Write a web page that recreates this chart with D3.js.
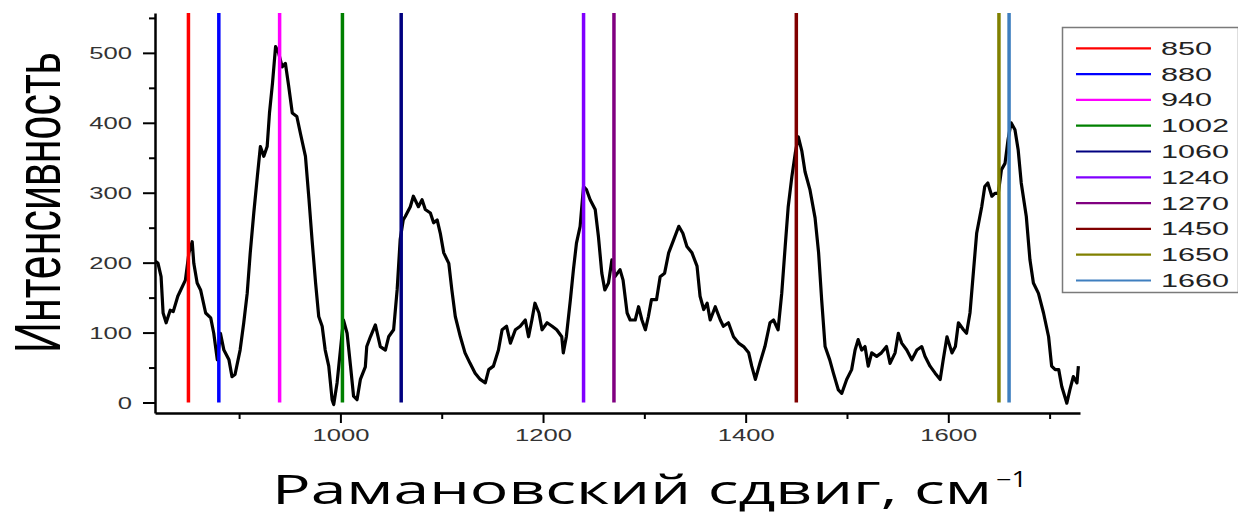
<!DOCTYPE html>
<html>
<head>
<meta charset="utf-8">
<script src="https://cdn.jsdelivr.net/npm/d3@7"></script>
<style>
  html, body { margin: 0; padding: 0; background: #fff; }
  svg { display: block; }
</style>
</head>
<body>
<svg id="chart" width="1238" height="517"></svg>
<script>
// Raman spectrum: shift (cm^-1) and intensity
const shift = [817.5,820,823,825,828,832,835,839.5,847,850.5,853.7,855.3,858.6,862,867,872,875,878.5,881.6,885,890,893,896,901,904.6,908,911,914.5,918,921,924.4,927.7,930,933,936,939,942.5,945.7,949,952.5,957,960.5,965.5,969,972,975.5,978.6,982,985,988.5,991.8,993.4,996.7,1000,1003,1006.6,1010,1013,1016.4,1019.7,1024.6,1026,1029.6,1034.5,1039.4,1044.4,1047.6,1052.5,1056,1059,1062,1064,1069,1072,1077,1080.6,1083.8,1088.8,1092,1095.5,1098.6,1102,1107,1110,1113.4,1118.4,1123,1128,1133,1138,1143,1146.4,1151,1156,1159.6,1164,1167.8,1172.7,1177.5,1182.5,1185.7,1189,1192,1196,1199,1204,1209,1213.5,1218.5,1220,1223,1227,1230,1233,1236.6,1240,1243,1246.5,1251.5,1254.7,1258,1261,1264.6,1268,1271,1276,1279,1283,1286,1291,1294.3,1297.6,1301,1304,1307,1312,1315.6,1320,1324,1329,1334,1338,1342,1347,1352,1355,1358.6,1362,1365,1370,1375,1378,1383,1388,1393,1398,1403,1406,1409.6,1414,1419,1424,1427.5,1432,1435.6,1439,1442,1445.6,1449,1452,1455.4,1458.6,1463.5,1468.5,1472,1475,1478.4,1483,1486.6,1491.5,1494.8,1499.7,1504.6,1508,1511,1514.5,1517.8,1521,1524.4,1529.3,1534,1539,1542.5,1547.5,1550.7,1554,1559,1564,1569,1573.8,1577,1582,1587,1592,1595,1598.7,1603.6,1607,1610,1615,1618,1621.4,1624.7,1628,1633,1636,1639,1643,1646,1649.3,1652.5,1656,1659,1662,1665.8,1669,1672,1677,1680.6,1684,1689,1694,1699,1702,1705.5,1709,1712,1717,1720,1723.4,1727,1728.4];
const intensity = [202,199,180,128,114,132,130,152,175,214,230,199,171,161,128,121,99,61,99,75,61,37,40,75,114,156,214,271,323,366,352,366,414,457,509,500,480,485,452,414,409,385,352,290,233,171,123,109,75,52,4,-3,28,75,118,99,52,9,4,33,51,80,94,111,80,75,94,104,161,233,261,266,280,295,280,290,276,271,257,261,242,214,199,161,123,94,71,56,42,33,28,47,52,75,104,109,85,104,109,118,94,118,142,128,104,114,109,104,94,71,94,147,190,228,252,309,304,290,276,237,185,161,171,204,180,190,175,128,118,118,137,118,104,123,147,147,180,185,214,233,252,242,223,214,195,152,133,142,118,137,118,109,114,94,85,80,71,52,33,56,80,114,118,104,156,223,280,323,357,380,360,330,304,264,214,147,80,61,42,18,13,33,47,75,90,75,80,52,71,66,71,80,56,71,99,85,75,61,75,80,66,52,42,33,61,94,71,80,114,104,99,128,185,242,280,309,314,295,299,299,333,342,376,400,390,361,314,266,204,171,156,128,94,52,47,47,23,-1,18,37,28,52];

// Marked band positions and their colours
const bands = [850, 880, 940, 1002, 1060, 1240, 1270, 1450, 1650, 1660];
const bandLabels = ["850", "880", "940", "1002", "1060", "1240", "1270", "1450", "1650", "1660"];
const bandColors = ["#ff0000", "#0000ff", "#ff00ff", "#008000", "#000080", "#8000ff", "#800080", "#800000", "#808000", "#3f7fbf"];

// Axis ticks
const xMajor = [1000, 1200, 1400, 1600];
const xMinor = [900, 1100, 1300, 1500, 1700];
const yMajor = [0, 100, 200, 300, 400, 500];
const yMinor = [50, 150, 250, 350, 450, 550];

const svg = d3.select("#chart");
const x = d3.scaleLinear().domain([817, 1730]).range([155, 1080]);
const y = d3.scaleLinear().domain([-15, 557]).range([413, 13]);
const glyphStretch = 1.6;

// spectrum line
const pts = shift.map((s, i) => [s, intensity[i]]);
svg.append("path")
  .datum(pts)
  .attr("fill", "none")
  .attr("stroke", "#000")
  .attr("stroke-width", 3.2)
  .attr("stroke-linejoin", "round")
  .attr("d", d3.line().x(d => x(d[0])).y(d => y(d[1])));

// vertical band markers
svg.append("g").selectAll("line")
  .data(bands)
  .join("line")
  .attr("x1", d => x(d)).attr("x2", d => x(d))
  .attr("y1", y(0)).attr("y2", y(557))
  .attr("stroke", (d, i) => bandColors[i])
  .attr("stroke-width", 3.5);

// axes
function styleAxis(g) {
  g.select(".domain").attr("stroke", "#000").attr("stroke-width", 2.5);
  g.selectAll(".tick line").attr("stroke", "#000").attr("stroke-width", 2);
}

const xAxisG = svg.append("g").attr("transform", `translate(0,${y(-15)})`);
xAxisG.call(d3.axisBottom(x).tickValues(xMajor).tickSize(10).tickSizeOuter(0).tickFormat(d3.format("d")))
  .call(styleAxis);
xAxisG.selectAll(".tick text")
  .attr("y", 17).attr("dy", "0.71em")
  .attr("font-family", "Liberation Sans, Arial, sans-serif")
  .attr("font-size", 16)
  .attr("fill", "#333")
  .attr("transform", `scale(${glyphStretch},1)`);
svg.append("g").attr("transform", `translate(0,${y(-15)})`)
  .call(d3.axisBottom(x).tickValues(xMinor).tickSize(6).tickSizeOuter(0).tickFormat(""))
  .call(styleAxis)
  .select(".domain").remove();

const yAxisG = svg.append("g").attr("transform", `translate(${x(817)},0)`);
yAxisG.call(d3.axisLeft(y).tickValues(yMajor).tickSize(12).tickSizeOuter(0).tickFormat(d3.format("d")))
  .call(styleAxis);
yAxisG.selectAll(".tick text")
  .attr("x", -23 / glyphStretch).attr("dy", "0.35em")
  .attr("font-family", "Liberation Sans, Arial, sans-serif")
  .attr("font-size", 16)
  .attr("fill", "#333")
  .attr("transform", `scale(${glyphStretch},1)`);
svg.append("g").attr("transform", `translate(${x(817)},0)`)
  .call(d3.axisLeft(y).tickValues(yMinor).tickSize(6).tickSizeOuter(0).tickFormat(""))
  .call(styleAxis)
  .select(".domain").remove();

// legend
const legend = svg.append("g");
legend.append("rect")
  .attr("x", 1062.5).attr("y", 27.5)
  .attr("width", 176).attr("height", 265)
  .attr("fill", "#fff").attr("stroke", "#7a7a7a").attr("stroke-width", 1.5);
const rowY = i => 48.3 + i * 25.8;
legend.selectAll("line.key")
  .data(bands)
  .join("line")
  .attr("class", "key")
  .attr("x1", 1076).attr("x2", 1151)
  .attr("y1", (d, i) => rowY(i)).attr("y2", (d, i) => rowY(i))
  .attr("stroke", (d, i) => bandColors[i])
  .attr("stroke-width", 2.2);
legend.selectAll("text")
  .data(bandLabels)
  .join("text")
  .attr("transform", (d, i) => `translate(1161,${rowY(i)}) scale(1.7,1)`)
  .attr("dy", "0.36em")
  .attr("font-family", "Liberation Sans, Arial, sans-serif")
  .attr("font-size", 18)
  .attr("fill", "#222")
  .text(d => d);

// axis titles
svg.append("text")
  .attr("transform", "translate(60,202.5) rotate(-90) scale(1,1.51)")
  .attr("text-anchor", "middle")
  .attr("font-family", "Liberation Sans, Arial, sans-serif")
  .attr("font-size", 43)
  .attr("fill", "#000")
  .attr("textLength", 301)
  .attr("lengthAdjust", "spacingAndGlyphs")
  .text("Интенсивность");

svg.append("text")
  .attr("x", 272).attr("y", 504)
  .attr("font-family", "Open Sans, Noto Sans, sans-serif")
  .attr("font-size", 40)
  .attr("fill", "#000")
  .attr("textLength", 720)
  .attr("lengthAdjust", "spacingAndGlyphs")
  .text("Рамановский сдвиг, см");
svg.append("text")
  .attr("x", 996).attr("y", 487)
  .attr("font-family", "Open Sans, Noto Sans, sans-serif")
  .attr("font-size", 21)
  .attr("fill", "#000")
  .attr("textLength", 31)
  .attr("lengthAdjust", "spacingAndGlyphs")
  .text("−1");
</script>
</body>
</html>
